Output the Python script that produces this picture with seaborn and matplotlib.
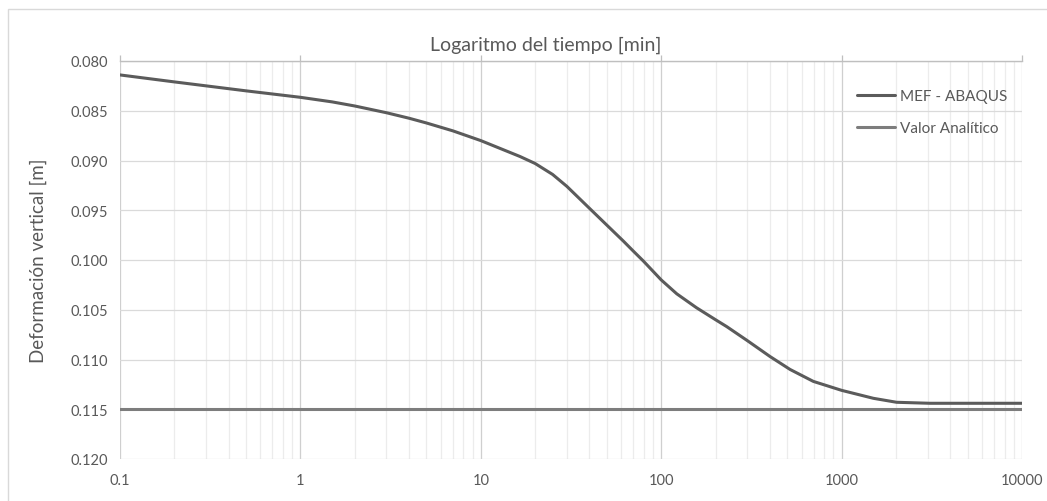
import matplotlib
matplotlib.use("Agg")
import matplotlib.pyplot as plt
from matplotlib.patches import Rectangle
from matplotlib.ticker import FixedLocator, FixedFormatter, LogLocator, NullFormatter
import numpy as np
import pandas as pd
import seaborn as sns

# Asentamiento vertical obtenido con el modelo MEF (ABAQUS)
tiempo_min = [0.1, 0.2, 0.5, 1, 1.5, 2, 3, 4, 5, 7, 10, 16.5, 20, 25, 30, 40,
              50, 61.7, 70, 79.6, 100, 122, 157, 200, 231, 300, 401, 518, 697,
              1000, 1500, 2018, 3090, 5850, 10000]
deform_mef = [0.0814, 0.0821, 0.0830, 0.08365, 0.08411, 0.08452, 0.08520,
              0.08575, 0.08623, 0.08702, 0.0880, 0.0896, 0.0903, 0.0914, 0.0926,
              0.0948, 0.0965, 0.0981, 0.0991, 0.1001, 0.1020, 0.1034, 0.1048,
              0.1060, 0.1067, 0.1081, 0.1097, 0.1110, 0.1122, 0.1131, 0.1139,
              0.1143, 0.1144, 0.1144, 0.1144]

# Asentamiento final analítico
tiempo_analitico = [0.1, 10000]
deform_analitico = [0.115, 0.115]

series = ["MEF - ABAQUS", "Valor Analítico"]
colores = ["#5b5b5b", "#7d7d7d"]

x_ticks = [0.1, 1, 10, 100, 1000, 10000]
x_tick_labels = ["0.1", "1", "10", "100", "1000", "10000"]
y_ticks = [0.080, 0.085, 0.090, 0.095, 0.100, 0.105, 0.110, 0.115, 0.120]
y_tick_labels = ["0.080", "0.085", "0.090", "0.095", "0.100", "0.105",
                 "0.110", "0.115", "0.120"]

df = pd.concat([
    pd.DataFrame({"t": tiempo_min, "d": deform_mef, "serie": series[0]}),
    pd.DataFrame({"t": tiempo_analitico, "d": deform_analitico, "serie": series[1]}),
])

sns.set_theme(style="white")
plt.rcParams["font.family"] = ["Lato", "DejaVu Sans"]
txt = "#595959"

W, H = 1047, 502
fig = plt.figure(figsize=(W / 100, H / 100), dpi=100)
ax = fig.add_axes([120 / W, 1 - 460 / H, (1022 - 120) / W, (460 - 62) / H])

sns.lineplot(data=df, x="t", y="d", hue="serie", hue_order=series,
             palette=colores, linewidth=2.2, ax=ax, legend=False, sort=True)

ax.set_xscale("log")
ax.set_xlim(0.1, 10000)
ax.set_ylim(0.120, 0.080)

# cuadrícula
ax.xaxis.set_major_locator(FixedLocator(x_ticks))
ax.xaxis.set_major_formatter(FixedFormatter(x_tick_labels))
ax.xaxis.set_minor_locator(LogLocator(base=10, subs=np.arange(2, 10)))
ax.xaxis.set_minor_formatter(NullFormatter())
ax.yaxis.set_major_locator(FixedLocator(y_ticks))
ax.yaxis.set_major_formatter(FixedFormatter(y_tick_labels))
ax.grid(which="major", axis="x", color="#cfcfcf", lw=0.9)
ax.grid(which="minor", axis="x", color="#ececec", lw=0.9)
ax.grid(which="major", axis="y", color="#dadada", lw=0.9)
ax.set_axisbelow(True)

for s in ["left", "right", "bottom"]:
    ax.spines[s].set_visible(False)
ax.spines["top"].set_color("#bfbfbf")
ax.spines["top"].set_linewidth(1.0)

ax.tick_params(axis="x", which="major", top=True, bottom=False, labelbottom=True,
               labeltop=False, direction="out", length=4, width=0.9,
               color="#bfbfbf", pad=6, labelsize=10.5, labelcolor=txt)
ax.tick_params(axis="x", which="minor", top=False, bottom=False)
ax.tick_params(axis="y", left=False, right=False, length=0, pad=8.5,
               labelsize=10.5, labelcolor=txt)

ax.set_xlabel("")
ax.set_ylabel("Deformación vertical [m]", fontsize=13.5, color=txt, labelpad=17)

fig.text(546 / W, 1 - 45 / H, "Logaritmo del tiempo [min]", ha="center",
         va="center", fontsize=14, color=txt)

leg = ax.legend(handles=ax.get_lines()[:2], labels=series, loc="upper left",
                bbox_to_anchor=(857 / W, 1 - 90 / H),
                bbox_transform=fig.transFigure, frameon=False, fontsize=11,
                handlelength=2.5, handletextpad=0.3, labelspacing=1.2,
                borderpad=0, borderaxespad=0, labelcolor=txt)

# marco del gráfico
fig.add_artist(Rectangle((7.5 / W, -0.02), 1.05, 1.02 - 9.5 / H,
                         transform=fig.transFigure, fill=False,
                         edgecolor="#d9d9d9", lw=1.0))

fig.savefig("out.png", dpi=100)
